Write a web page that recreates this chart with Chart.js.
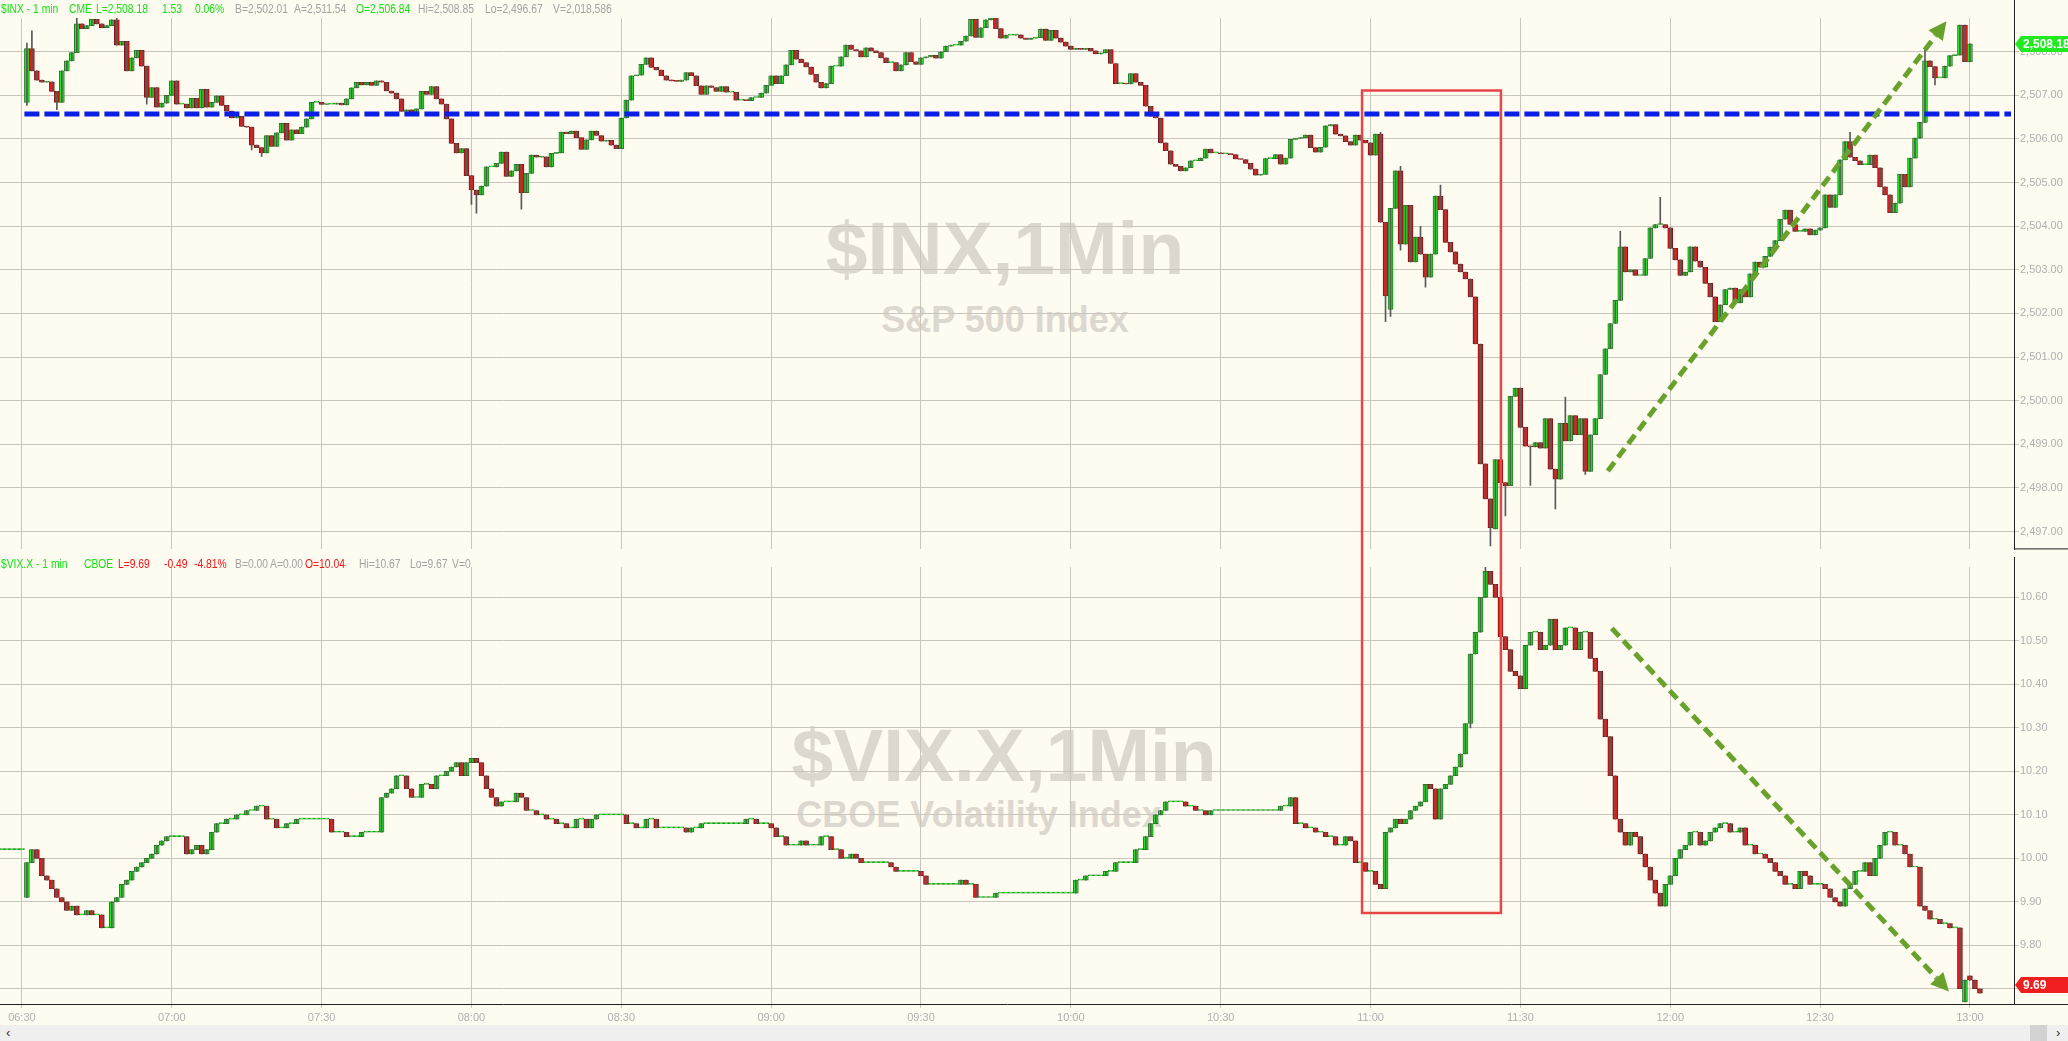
<!DOCTYPE html>
<html>
<head>
<meta charset="utf-8">
<title>$INX / $VIX.X 1 min</title>
<script src="https://cdn.jsdelivr.net/npm/chart.js@4.4.1/dist/chart.umd.min.js"></script>
<style>
  body { margin: 0; width: 2068px; height: 1041px; overflow: hidden; position: relative;
         background: #fefbf1; font-family: Arial, "Liberation Sans", sans-serif; }
  canvas { position: absolute; left: 0; }
  #inx { top: 0; z-index: 2; }
  #vix { top: 557px; z-index: 2; }
  .wm { position: absolute; z-index: 1; color: #dcd8cf; font-weight: bold; white-space: nowrap;
        transform: translateX(-50%); }
  .big { font-size: 75px; line-height: 75px; }
  .sub { font-size: 36px; line-height: 36px; }
  .hdr { position: absolute; z-index: 3; font-size: 12px; line-height: 14px; white-space: nowrap; }
  .hdr span { position: absolute; top: 0; transform: scaleX(0.86); transform-origin: 0 0; }
  .g { color: #14e014; } .r { color: #f01414; } .k { color: #a3a3a3; }
  #scroll { position: absolute; left: 0; top: 1025px; width: 2068px; height: 16px; background: #efefef; }
  #scroll span { position: absolute; top: 0; font-size: 13px; line-height: 16px; color: #333; }
  #thumb { position: absolute; left: 2030px; top: 0; width: 17px; height: 16px; background: #d2d2d2; }
</style>
</head>
<body>

<div class="wm big" style="left:1005px; top:211px;">$INX,1Min</div>
<div class="wm sub" style="left:1005px; top:302px;">S&amp;P 500 Index</div>
<div class="wm big" style="left:1004px; top:718px;">$VIX.X,1Min</div>
<div class="wm sub" style="left:979px; top:797px;">CBOE Volatility Index</div>

<canvas id="inx" width="2068" height="557"></canvas>
<canvas id="vix" width="2068" height="468"></canvas>

<div class="hdr" style="top:2px; left:0;">
  <span class="g" style="left:1px">$INX - 1 min</span>
  <span class="g" style="left:69px">CME</span>
  <span class="g" style="left:96px">L=2,508.18</span>
  <span class="g" style="left:162px">1.53</span>
  <span class="g" style="left:195px">0.06%</span>
  <span class="k" style="left:235px">B=2,502.01</span>
  <span class="k" style="left:294px">A=2,511.54</span>
  <span class="g" style="left:356px">O=2,506.84</span>
  <span class="k" style="left:418px">Hi=2,508.85</span>
  <span class="k" style="left:485px">Lo=2,496.67</span>
  <span class="k" style="left:553px">V=2,018,586</span>
</div>
<div class="hdr" style="top:557px; left:0;">
  <span class="g" style="left:1px">$VIX.X - 1 min</span>
  <span class="g" style="left:84px">CBOE</span>
  <span class="r" style="left:118px">L=9.69</span>
  <span class="r" style="left:164px">-0.49</span>
  <span class="r" style="left:194px">-4.81%</span>
  <span class="k" style="left:235px">B=0.00</span>
  <span class="k" style="left:270px">A=0.00</span>
  <span class="r" style="left:305px">O=10.04</span>
  <span class="k" style="left:359px">Hi=10.67</span>
  <span class="k" style="left:410px">Lo=9.67</span>
  <span class="k" style="left:452px">V=0</span>
</div>

<div id="scroll"><span style="left:6px">&#8249;</span><div id="thumb"></div><span style="left:2056px">&#8250;</span></div>

<script>
// ---- data ----
// time axis: minutes after 06:30
const TIME_TICKS = [0, 30, 60, 90, 120, 150, 180, 210, 240, 270, 300, 330, 360, 390];
const TIME_LABELS = ['06:30', '07:00', '07:30', '08:00', '08:30', '09:00', '09:30',
                     '10:00', '10:30', '11:00', '11:30', '12:00', '12:30', '13:00'];

// S&P 500, 1 min closes from 06:31 (t = 1) to 13:00 (t = 390)
const INX_FIRST_T = 1;
const INX_OPEN = 2506.84;
const INX_CLOSE = [
  2508.07, 2507.56, 2507.35, 2507.30, 2507.31, 2507.09, 2506.84, 2507.56, 2507.79, 2507.98,
  2508.64, 2508.53, 2508.60, 2508.74, 2508.64, 2508.55, 2508.60, 2508.73, 2508.15, 2508.24,
  2507.56, 2507.86, 2508.03, 2507.67, 2506.95, 2507.18, 2506.73, 2506.82, 2507.00, 2507.33,
  2506.80, 2506.80, 2506.71, 2506.93, 2506.71, 2507.14, 2506.73, 2506.84, 2506.99, 2506.77,
  2506.64, 2506.48, 2506.52, 2506.29, 2506.27, 2505.86, 2505.80, 2505.68, 2506.08, 2505.83,
  2506.14, 2506.36, 2505.97, 2506.21, 2506.12, 2506.27, 2506.46, 2506.84, 2506.84, 2506.79,
  2506.80, 2506.80, 2506.82, 2506.78, 2506.92, 2507.17, 2507.30, 2507.24, 2507.30, 2507.23,
  2507.33, 2507.30, 2507.10, 2507.05, 2506.92, 2506.63, 2506.67, 2506.60, 2506.69, 2507.09,
  2507.02, 2507.20, 2506.92, 2506.80, 2506.46, 2505.90, 2505.68, 2505.78, 2505.16, 2504.83,
  2504.72, 2504.92, 2505.36, 2505.36, 2505.44, 2505.70, 2505.14, 2505.27, 2505.42, 2504.77,
  2505.21, 2505.63, 2505.58, 2505.59, 2505.36, 2505.67, 2505.68, 2506.16, 2506.12, 2506.18,
  2506.03, 2505.76, 2505.98, 2506.18, 2506.08, 2505.95, 2505.97, 2505.86, 2505.78, 2506.48,
  2506.89, 2507.45, 2507.46, 2507.71, 2507.86, 2507.64, 2507.58, 2507.45, 2507.35, 2507.33,
  2507.32, 2507.35, 2507.52, 2507.45, 2507.22, 2507.02, 2507.22, 2507.18, 2507.09, 2507.20,
  2507.07, 2507.07, 2506.89, 2506.89, 2506.88, 2506.95, 2506.95, 2507.05, 2507.23, 2507.45,
  2507.27, 2507.45, 2507.70, 2508.03, 2507.83, 2507.75, 2507.65, 2507.48, 2507.30, 2507.17,
  2507.27, 2507.67, 2507.67, 2507.88, 2508.15, 2508.05, 2508.02, 2507.88, 2508.09, 2508.02,
  2507.98, 2507.86, 2507.75, 2507.75, 2507.56, 2507.70, 2507.98, 2507.77, 2507.71, 2507.86,
  2507.88, 2507.92, 2507.85, 2508.00, 2508.13, 2508.15, 2508.15, 2508.24, 2508.36, 2508.74,
  2508.33, 2508.55, 2508.73, 2508.81, 2508.53, 2508.31, 2508.38, 2508.38, 2508.39, 2508.31,
  2508.28, 2508.31, 2508.32, 2508.52, 2508.26, 2508.49, 2508.31, 2508.22, 2508.13, 2508.05,
  2508.08, 2508.05, 2508.08, 2508.02, 2507.95, 2507.97, 2508.05, 2507.73, 2507.27, 2507.27,
  2507.26, 2507.50, 2507.30, 2507.23, 2506.75, 2506.52, 2506.48, 2505.91, 2505.73, 2505.42,
  2505.37, 2505.27, 2505.34, 2505.50, 2505.50, 2505.56, 2505.77, 2505.68, 2505.68, 2505.66,
  2505.66, 2505.64, 2505.54, 2505.53, 2505.44, 2505.31, 2505.17, 2505.19, 2505.55, 2505.55,
  2505.64, 2505.42, 2505.56, 2505.99, 2506.01, 2506.03, 2506.09, 2505.80, 2505.70, 2505.81,
  2506.30, 2506.33, 2506.11, 2506.07, 2505.94, 2505.86, 2506.09, 2505.97, 2505.91, 2505.63,
  2506.11, 2504.09, 2502.40, 2504.41, 2505.27, 2503.59, 2504.48, 2503.18, 2503.75, 2503.36,
  2502.83, 2503.36, 2504.69, 2504.38, 2503.63, 2503.41, 2503.13, 2502.95, 2502.79, 2502.38,
  2501.30, 2498.55, 2497.75, 2497.09, 2498.65, 2498.12, 2498.05, 2500.10, 2500.29, 2499.39,
  2498.96, 2498.94, 2499.04, 2498.91, 2499.59, 2498.43, 2498.20, 2499.48, 2499.08, 2499.66,
  2499.22, 2499.59, 2498.38, 2499.22, 2499.59, 2500.60, 2501.19, 2501.77, 2502.30, 2503.53,
  2502.95, 2503.00, 2502.87, 2502.87, 2503.26, 2503.96, 2504.04, 2504.04, 2503.96, 2503.49,
  2503.23, 2502.87, 2502.95, 2503.53, 2503.20, 2503.06, 2502.69, 2502.38, 2501.81, 2502.20,
  2502.55, 2502.58, 2502.24, 2502.55, 2502.38, 2502.91, 2503.18, 2503.06, 2503.31, 2503.52,
  2503.67, 2504.16, 2504.37, 2504.04, 2503.88, 2503.88, 2503.94, 2503.80, 2503.91, 2503.96,
  2504.72, 2504.43, 2504.72, 2505.52, 2505.94, 2505.58, 2505.50, 2505.41, 2505.41, 2505.63,
  2505.34, 2504.90, 2504.72, 2504.31, 2504.53, 2505.19, 2504.90, 2505.56, 2506.02, 2506.38,
  2507.79, 2507.66, 2507.40, 2507.40, 2507.67, 2507.91, 2507.92, 2508.61, 2507.77, 2508.18
];
// opens that gap away from the previous close: [t, open]
const INX_GAPS = [[274, 2502.09], [295, 2497.06]];
// wick extremes where they stick out of the body: [t, high, low]
const INX_WICKS = [
  [1, 2508.20, 2506.77], [2, 2508.48, 2507.56], [7, 2507.09, 2506.67], [11, 2508.77, 2507.98],
  [19, 2508.85, 2508.15], [25, 2507.67, 2506.80], [46, 2506.27, 2505.75], [48, 2505.80, 2505.60],
  [90, 2505.16, 2504.50], [91, 2504.83, 2504.30], [100, 2505.42, 2504.39], [272, 2506.15, 2504.09],
  [273, 2504.09, 2501.81], [274, 2504.41, 2501.93], [276, 2505.37, 2503.45], [280, 2504.00, 2503.36],
  [281, 2503.36, 2502.60], [284, 2504.94, 2504.38], [294, 2497.75, 2496.67], [297, 2498.12, 2497.36],
  [302, 2498.96, 2498.06], [307, 2498.43, 2497.52], [309, 2500.08, 2499.08], [313, 2499.59, 2498.31],
  [320, 2503.88, 2502.30], [328, 2504.66, 2504.04], [366, 2506.15, 2505.58], [381, 2508.10, 2506.38],
  [383, 2507.66, 2507.24]
];
const INX_TICKS = [2497, 2498, 2499, 2500, 2501, 2502, 2503, 2504, 2505, 2506, 2507, 2508];

// VIX, 1 min closes from t = -4 to t = 392
const VIX_FIRST_T = -4;
const VIX_OPEN = 10.02;
const VIX_CLOSE = [
  10.02, 10.02, 10.02, 10.02, 10.02,
  9.99, 10.02, 10.00, 9.96, 9.95, 9.93, 9.91, 9.90, 9.88, 9.89,
  9.87, 9.87, 9.88, 9.87, 9.87, 9.84, 9.84, 9.90, 9.91, 9.94,
  9.95, 9.97, 9.98, 9.99, 10.00, 10.01, 10.03, 10.04, 10.05, 10.05,
  10.05, 10.05, 10.01, 10.02, 10.03, 10.01, 10.02, 10.06, 10.08, 10.08,
  10.09, 10.09, 10.10, 10.10, 10.11, 10.11, 10.12, 10.12, 10.09, 10.09,
  10.07, 10.07, 10.08, 10.08, 10.09, 10.09, 10.09, 10.09, 10.09, 10.09,
  10.09, 10.06, 10.06, 10.06, 10.05, 10.05, 10.05, 10.06, 10.06, 10.06,
  10.06, 10.14, 10.15, 10.16, 10.19, 10.19, 10.16, 10.14, 10.14, 10.17,
  10.17, 10.16, 10.19, 10.19, 10.20, 10.21, 10.22, 10.19, 10.22, 10.23,
  10.22, 10.19, 10.16, 10.14, 10.12, 10.13, 10.13, 10.13, 10.15, 10.14,
  10.11, 10.11, 10.10, 10.10, 10.09, 10.09, 10.08, 10.08, 10.07, 10.07,
  10.09, 10.09, 10.07, 10.09, 10.10, 10.10, 10.10, 10.10, 10.10, 10.10,
  10.08, 10.08, 10.07, 10.07, 10.09, 10.09, 10.07, 10.07, 10.07, 10.07,
  10.07, 10.07, 10.06, 10.07, 10.07, 10.08, 10.08, 10.08, 10.08, 10.08,
  10.08, 10.08, 10.08, 10.08, 10.09, 10.09, 10.08, 10.08, 10.08, 10.07,
  10.05, 10.05, 10.03, 10.03, 10.03, 10.04, 10.03, 10.03, 10.03, 10.05,
  10.05, 10.02, 10.02, 10.00, 10.00, 10.01, 10.00, 9.99, 9.99, 9.99,
  9.99, 9.99, 9.99, 9.98, 9.97, 9.97, 9.97, 9.97, 9.97, 9.96,
  9.94, 9.94, 9.94, 9.94, 9.94, 9.94, 9.94, 9.95, 9.94, 9.94,
  9.91, 9.91, 9.91, 9.91, 9.92, 9.92, 9.92, 9.92, 9.92, 9.92,
  9.92, 9.92, 9.92, 9.92, 9.92, 9.92, 9.92, 9.92, 9.92, 9.92,
  9.95, 9.95, 9.96, 9.96, 9.96, 9.96, 9.97, 9.97, 9.99, 9.99,
  9.99, 9.99, 10.02, 10.02, 10.05, 10.08, 10.10, 10.11, 10.13, 10.13,
  10.13, 10.13, 10.12, 10.12, 10.11, 10.11, 10.10, 10.11, 10.11, 10.11,
  10.11, 10.11, 10.11, 10.11, 10.11, 10.11, 10.11, 10.11, 10.11, 10.11,
  10.11, 10.12, 10.12, 10.14, 10.08, 10.08, 10.07, 10.07, 10.06, 10.06,
  10.05, 10.05, 10.03, 10.03, 10.05, 10.04, 9.99, 9.99, 9.97, 9.97,
  9.94, 9.93, 10.06, 10.07, 10.09, 10.08, 10.09, 10.11, 10.12, 10.13,
  10.17, 10.16, 10.09, 10.16, 10.17, 10.19, 10.21, 10.24, 10.31, 10.47,
  10.52, 10.60, 10.66, 10.63, 10.60, 10.51, 10.48, 10.43, 10.42, 10.39,
  10.49, 10.52, 10.52, 10.48, 10.49, 10.55, 10.48, 10.49, 10.53, 10.53,
  10.48, 10.52, 10.52, 10.46, 10.43, 10.32, 10.28, 10.19, 10.09, 10.06,
  10.03, 10.06, 10.05, 10.01, 9.98, 9.95, 9.92, 9.89, 9.94, 9.96,
  10.00, 10.02, 10.03, 10.06, 10.06, 10.03, 10.04, 10.06, 10.07, 10.08,
  10.08, 10.06, 10.06, 10.07, 10.03, 10.03, 10.01, 10.01, 10.00, 9.99,
  9.97, 9.96, 9.94, 9.94, 9.93, 9.97, 9.96, 9.94, 9.94, 9.94,
  9.93, 9.91, 9.90, 9.89, 9.93, 9.94, 9.97, 9.97, 9.99, 9.96,
  10.00, 10.03, 10.06, 10.06, 10.03, 10.03, 10.01, 9.98, 9.98, 9.89,
  9.88, 9.86, 9.86, 9.85, 9.85, 9.84, 9.84, 9.70, 9.72, 9.72,
  9.70, 9.69
];
const VIX_GAPS = [[1, 9.91], [389, 9.67], [390, 9.73]];
const VIX_WICKS = [[290, 10.47, 10.30], [293, 10.67, 10.60], [389, 9.72, 9.67]];
const VIX_TICKS = [9.7, 9.8, 9.9, 10.0, 10.1, 10.2, 10.3, 10.4, 10.5, 10.6];

// chart markings, in data units
const BLUE_LEVEL = 2506.57;
const RECT_T = [268.3, 296.1];
const RECT_INX_TOP = 2507.11;
const RECT_VIX_BOTTOM = 9.874;
const ARROW_UP = [[317.5, 2498.39], [385.3, 2508.70]];
const ARROW_DOWN = [[318.3, 10.529], [385.8, 9.694]];

// ---- styling ----
const GREEN = '#1eec1e', RED = '#ee1414';
const GREEN_EDGE = '#1a861a', RED_EDGE = '#8c1212';
const GRID = '#c8c5bd';
const AXIS_TEXT = '#b0b0b0';
const ARROW_COLOR = '#68a22c';
const X_MIN = -4.384, X_MAX = 398.82;

Chart.defaults.font.family = 'Arial, "Liberation Sans", sans-serif';
Chart.defaults.animation = false;

function buildCandles(firstT, firstOpen, closes, gaps, wicks) {
  const bodies = [], sticks = [], fill = [], edge = [];
  let prev = firstOpen;
  closes.forEach((c, k) => {
    const t = firstT + k;
    const gap = gaps.find(g => g[0] === t);
    const o = gap ? gap[1] : prev;
    let hi = Math.max(o, c), lo = Math.min(o, c);
    const w = wicks.find(g => g[0] === t);
    if (w) { hi = Math.max(hi, w[1]); lo = Math.min(lo, w[2]); }
    bodies.push({ x: t, y: [o, c] });
    if (hi > lo) sticks.push({ x: t, y: [lo, hi] });
    const up = c >= o;
    fill.push(up ? GREEN : RED);
    edge.push(up ? GREEN_EDGE : RED_EDGE);
    prev = c;
  });
  return [
    { data: sticks, backgroundColor: '#595959', barThickness: 1, grouped: false, borderWidth: 0 },
    { data: bodies, backgroundColor: fill, borderColor: edge, borderWidth: 1, borderSkipped: false,
      barThickness: 5, minBarLength: 1, grouped: false }
  ];
}

function rightAxis(ticks, fmt, min, max) {
  return {
    position: 'right', min: min, max: max,
    afterBuildTicks: s => { s.ticks = ticks.map(v => ({ value: v })); },
    afterFit: s => { s.width = 54; },
    ticks: { color: AXIS_TEXT, font: { size: 11 }, padding: 1, callback: fmt },
    grid: { color: GRID, tickLength: 5 },
    border: { color: '#222', width: 1 }
  };
}

function timeAxis(showLabels) {
  return {
    type: 'linear', min: X_MIN, max: X_MAX, offset: false,
    afterBuildTicks: s => { s.ticks = TIME_TICKS.map(v => ({ value: v })); },
    afterFit: s => { s.height = showLabels ? 21 : 0; },
    ticks: {
      display: showLabels, color: AXIS_TEXT, font: { size: 11 }, padding: 3,
      autoSkip: false, maxRotation: 0,
      callback: v => TIME_LABELS[TIME_TICKS.indexOf(v)]
    },
    grid: { color: GRID, offset: false, drawTicks: showLabels, tickLength: 4 },
    border: showLabels ? { color: '#222', width: 1 } : { display: false }
  };
}

function axisLines(chart, bottomY) {
  const ctx = chart.ctx, x = chart.scales.y.left;
  ctx.save();
  ctx.strokeStyle = '#222';
  ctx.lineWidth = 1;
  ctx.beginPath();
  ctx.moveTo(x + 0.5, 0); ctx.lineTo(x + 0.5, bottomY);
  ctx.moveTo(x, bottomY - 0.5); ctx.lineTo(chart.width, bottomY - 0.5);
  ctx.stroke();
  ctx.restore();
}

function drawArrow(ctx, x0, y0, x1, y1) {
  const a = Math.atan2(y1 - y0, x1 - x0), head = 18, half = 9;
  const bx = x1 - head * Math.cos(a), by = y1 - head * Math.sin(a);
  ctx.save();
  ctx.strokeStyle = ARROW_COLOR; ctx.fillStyle = ARROW_COLOR;
  ctx.lineWidth = 5; ctx.setLineDash([11, 6]);
  ctx.beginPath(); ctx.moveTo(x0, y0); ctx.lineTo(bx, by); ctx.stroke();
  ctx.setLineDash([]);
  ctx.beginPath();
  ctx.moveTo(x1, y1);
  ctx.lineTo(bx + half * Math.sin(a), by - half * Math.cos(a));
  ctx.lineTo(bx - half * Math.sin(a), by + half * Math.cos(a));
  ctx.closePath(); ctx.fill();
  ctx.restore();
}

function priceTag(chart, value, text, color, yMax) {
  const ctx = chart.ctx, ys = chart.scales.y;
  let y = Math.round(ys.getPixelForValue(value));
  if (yMax !== undefined) y = Math.min(y, yMax);
  const x = ys.left + 1;
  ctx.save();
  ctx.fillStyle = color;
  ctx.beginPath();
  ctx.moveTo(x, y);
  ctx.lineTo(x + 6, y - 8);
  ctx.lineTo(chart.width, y - 8);
  ctx.lineTo(chart.width, y + 8);
  ctx.lineTo(x + 6, y + 8);
  ctx.closePath(); ctx.fill();
  ctx.fillStyle = '#fff';
  ctx.font = 'bold 12px Arial, "Liberation Sans", sans-serif';
  ctx.textBaseline = 'middle';
  ctx.fillText(text, x + 8, y + 1);
  ctx.restore();
}

const inxMarks = {
  id: 'inxMarks',
  afterDatasetsDraw(chart) {
    const ctx = chart.ctx, xs = chart.scales.x, ys = chart.scales.y, area = chart.chartArea;
    ctx.save();
    // blue dashed level
    ctx.strokeStyle = '#0a1ee6'; ctx.lineWidth = 5; ctx.setLineDash([15, 5]);
    ctx.beginPath();
    const yb = ys.getPixelForValue(BLUE_LEVEL);
    ctx.moveTo(xs.getPixelForValue(0.5), yb); ctx.lineTo(area.right - 3, yb);
    ctx.stroke();
    // red box, upper part
    ctx.setLineDash([]);
    ctx.strokeStyle = '#e64646'; ctx.lineWidth = 2.5;
    const x0 = xs.getPixelForValue(RECT_T[0]), x1 = xs.getPixelForValue(RECT_T[1]);
    const yt = ys.getPixelForValue(RECT_INX_TOP);
    ctx.beginPath();
    ctx.moveTo(x0, chart.height); ctx.lineTo(x0, yt); ctx.lineTo(x1, yt); ctx.lineTo(x1, chart.height);
    ctx.stroke();
    ctx.restore();
    drawArrow(ctx, xs.getPixelForValue(ARROW_UP[0][0]), ys.getPixelForValue(ARROW_UP[0][1]),
                   xs.getPixelForValue(ARROW_UP[1][0]), ys.getPixelForValue(ARROW_UP[1][1]));
  },
  afterDraw(chart) {
    axisLines(chart, chart.chartArea.bottom);
    priceTag(chart, INX_CLOSE[INX_CLOSE.length - 1], '2,508.18', '#22ea22');
  }
};

const vixMarks = {
  id: 'vixMarks',
  afterDatasetsDraw(chart) {
    const ctx = chart.ctx, xs = chart.scales.x, ys = chart.scales.y;
    ctx.save();
    ctx.strokeStyle = '#e64646'; ctx.lineWidth = 2.5;
    const x0 = xs.getPixelForValue(RECT_T[0]), x1 = xs.getPixelForValue(RECT_T[1]);
    const yb = ys.getPixelForValue(RECT_VIX_BOTTOM);
    ctx.beginPath();
    ctx.moveTo(x0, 0); ctx.lineTo(x0, yb); ctx.lineTo(x1, yb); ctx.lineTo(x1, 0);
    ctx.stroke();
    ctx.restore();
    drawArrow(ctx, xs.getPixelForValue(ARROW_DOWN[0][0]), ys.getPixelForValue(ARROW_DOWN[0][1]),
                   xs.getPixelForValue(ARROW_DOWN[1][0]), ys.getPixelForValue(ARROW_DOWN[1][1]));
  },
  afterDraw(chart) {
    axisLines(chart, chart.chartArea.bottom + 1);
    priceTag(chart, VIX_CLOSE[VIX_CLOSE.length - 1], '9.69', '#f01e1e', chart.chartArea.bottom - 19);
  }
};

// ---- S&P 500 panel ----
new Chart(document.getElementById('inx'), {
  type: 'bar',
  data: { datasets: buildCandles(INX_FIRST_T, INX_OPEN, INX_CLOSE, INX_GAPS, INX_WICKS) },
  options: {
    responsive: false, events: [],
    layout: { padding: { top: 18, bottom: 3, left: 0, right: 0 } },
    plugins: { legend: { display: false }, tooltip: { enabled: false } },
    scales: {
      x: timeAxis(false),
      y: rightAxis(INX_TICKS,
        v => v.toLocaleString('en-US', { minimumFractionDigits: 2, maximumFractionDigits: 2 }),
        2496.591, 2508.773)
    }
  },
  plugins: [inxMarks]
});

// ---- VIX panel ----
new Chart(document.getElementById('vix'), {
  type: 'bar',
  data: { datasets: buildCandles(VIX_FIRST_T, VIX_OPEN, VIX_CLOSE, VIX_GAPS, VIX_WICKS) },
  options: {
    responsive: false, events: [],
    layout: { padding: { top: 10, bottom: 0, left: 0, right: 0 } },
    plugins: { legend: { display: false }, tooltip: { enabled: false } },
    scales: {
      x: timeAxis(true),
      y: rightAxis(VIX_TICKS, v => v.toFixed(2), 9.665, 10.67)
    }
  },
  plugins: [vixMarks]
});
</script>
</body>
</html>
